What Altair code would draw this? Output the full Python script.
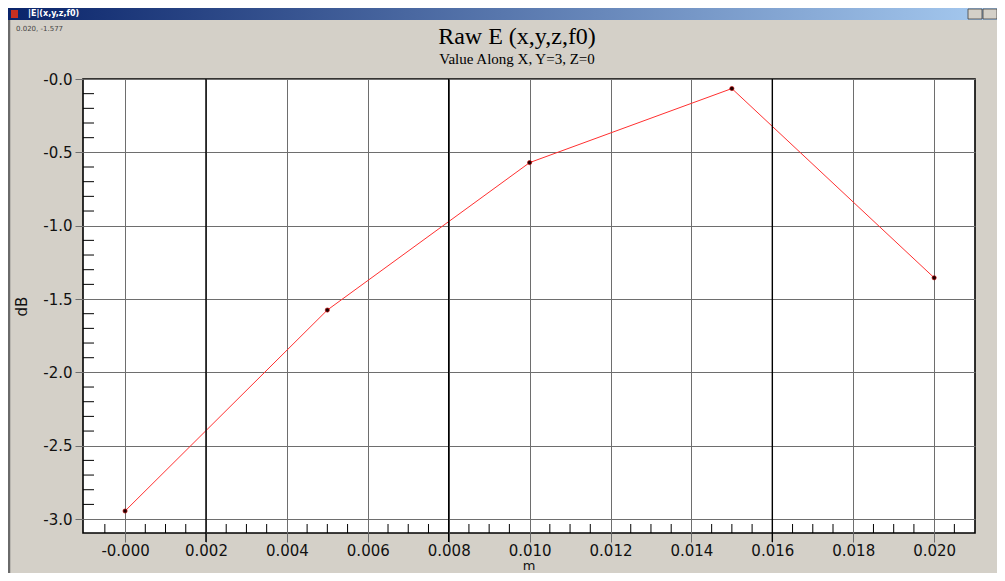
import altair as alt
import pandas as pd

# ---- data ----
x_m = [0.000, 0.005, 0.010, 0.015, 0.020]
y_db = [-2.945, -1.575, -0.570, -0.065, -1.355]

x_major = [0.000, 0.002, 0.004, 0.006, 0.008, 0.010, 0.012, 0.014, 0.016, 0.018, 0.020]
x_dark = [0.002, 0.008, 0.016]
x_minor = [-0.0005, 0.0005, 0.0010, 0.0015, 0.0025, 0.0030, 0.0035, 0.0045, 0.0050, 0.0055,
           0.0065, 0.0070, 0.0075, 0.0085, 0.0090, 0.0095, 0.0105, 0.0110, 0.0115,
           0.0125, 0.0130, 0.0135, 0.0145, 0.0150, 0.0155, 0.0165, 0.0170, 0.0175,
           0.0185, 0.0190, 0.0195, 0.0205]
y_major = [-3.0, -2.5, -2.0, -1.5, -1.0, -0.5, 0.0]
y_minor = [-2.9, -2.8, -2.7, -2.6, -2.4, -2.3, -2.2, -2.1, -1.9, -1.8, -1.7, -1.6,
           -1.4, -1.3, -1.2, -1.1, -0.9, -0.8, -0.7, -0.6, -0.4, -0.3, -0.2, -0.1]

title_text = "Raw E (x,y,z,f0)"
subtitle_text = "Value Along X, Y=3, Z=0"
window_text = "|E|(x,y,z,f0)"
status_text = "0.020, -1.577"

W, H = 892, 454
PAD_L, PAD_T, PAD_R, PAD_B = 75, 71, 22, 40
GRAY = "#D4D0C8"
GRID = "#6E6E6E"

df = pd.DataFrame({"m": x_m, "dB": y_db})
one = pd.DataFrame({"d": [0]})

xs = alt.Scale(domain=[-0.00104, 0.02101], nice=False, zero=False)
ys = alt.Scale(domain=[-3.095, 0.0], nice=False, zero=False)

x_axis = alt.Axis(
    values=x_major, grid=True, gridColor=GRID, gridWidth=1, gridOpacity=1,
    domain=False, ticks=True, tickSize=9, tickColor=GRID, tickWidth=1,
    labelFont="DejaVu Sans", labelFontSize=15, labelColor="#111", labelPadding=1,
    labelExpr="datum.value == 0 ? '-0.000' : format(datum.value, '.3f')",
    labelFlush=False, labelOverlap=False, title=None,
)
y_axis = alt.Axis(
    values=y_major, grid=True, gridColor=GRID, gridWidth=1, gridOpacity=1,
    domain=False, ticks=True, tickSize=8, tickColor=GRID, tickWidth=1,
    labelFont="DejaVu Sans", labelFontSize=15, labelColor="#111", labelPadding=3,
    labelExpr="datum.value == 0 ? '-0.0' : replace(format(datum.value, '.1f'), '\u2212', '-')",
    labelFlush=False, labelOverlap=False,
    title="dB", titleFont="DejaVu Sans", titleFontSize=15, titleFontWeight="normal",
    titleColor="#111", titleX=-62, titleY=227, titleAngle=270,
    titleAlign="center", titleBaseline="middle",
)

line = alt.Chart(df).mark_line(color="#FF3030", strokeWidth=1).encode(
    x=alt.X("m:Q", scale=xs, axis=x_axis),
    y=alt.Y("dB:Q", scale=ys, axis=y_axis),
)
points = alt.Chart(df).mark_point(filled=True, color="#200000", size=18, opacity=1,
                                  stroke="#C00000", strokeWidth=0.6).encode(
    x=alt.X("m:Q", scale=xs), y=alt.Y("dB:Q", scale=ys)
)

dark_grid = alt.Chart(pd.DataFrame({"m": x_dark})).mark_rule(
    color="#000", strokeWidth=1.4).encode(
    x=alt.X("m:Q", scale=xs), y=alt.value(0), y2=alt.value(H + 9))

xminor = alt.Chart(pd.DataFrame({"m": x_minor})).mark_rule(
    color="#000", strokeWidth=1).encode(
    x=alt.X("m:Q", scale=xs), y=alt.value(H), y2=alt.value(H - 9))

yminor = alt.Chart(pd.DataFrame({"dB": y_minor})).mark_rule(
    color="#000", strokeWidth=1).encode(
    y=alt.Y("dB:Q", scale=ys), x=alt.value(0), x2=alt.value(11))

# ---- titles as text marks ----
title_mark = alt.Chart(one).mark_text(
    text=title_text, font="Liberation Serif", fontSize=24, color="#000",
    align="center", baseline="alphabetic").encode(
    x=alt.value(434), y=alt.value(-35))
subtitle_mark = alt.Chart(one).mark_text(
    text=subtitle_text, font="Liberation Serif", fontSize=15, color="#000",
    align="center", baseline="alphabetic").encode(
    x=alt.value(434), y=alt.value(-15))
xtitle_mark = alt.Chart(one).mark_text(
    text="m", font="DejaVu Sans", fontSize=13, color="#111",
    align="center", baseline="bottom").encode(
    x=alt.value(446), y=alt.value(H + PAD_B))

# ---- window chrome ----
grad = alt.Gradient(
    gradient="linear",
    stops=[alt.GradientStop(color="#0A246A", offset=0),
           alt.GradientStop(color="#A6CAF0", offset=1)],
    x1=0, x2=1, y1=0, y2=0,
)
titlebar = alt.Chart(one).mark_rect(fill=grad).encode(
    x=alt.value(-PAD_L), x2=alt.value(W + PAD_R), y=alt.value(-PAD_T), y2=alt.value(-PAD_T + 12))
titlebar_text = alt.Chart(one).mark_text(
    text=window_text, color="white", font="DejaVu Sans", fontSize=8, fontWeight="bold",
    align="left", baseline="middle").encode(
    x=alt.value(-PAD_L + 20), y=alt.value(-PAD_T + 6))
icon = alt.Chart(one).mark_rect(color="#C83020").encode(
    x=alt.value(-PAD_L + 3), x2=alt.value(-PAD_L + 10), y=alt.value(-PAD_T + 2), y2=alt.value(-PAD_T + 10))
btn1 = alt.Chart(one).mark_rect(color=GRAY, stroke="#404040", strokeWidth=0.8).encode(
    x=alt.value(960 - PAD_L), x2=alt.value(974 - PAD_L), y=alt.value(-PAD_T + 1), y2=alt.value(-PAD_T + 11))
btn2 = alt.Chart(one).mark_rect(color=GRAY, stroke="#404040", strokeWidth=0.8).encode(
    x=alt.value(975 - PAD_L), x2=alt.value(989 - PAD_L), y=alt.value(-PAD_T + 1), y2=alt.value(-PAD_T + 11))
status = alt.Chart(one).mark_text(
    text=status_text, color="#444", font="DejaVu Sans", fontSize=7,
    align="left", baseline="middle").encode(
    x=alt.value(-PAD_L + 8), y=alt.value(-PAD_T + 21))
win_border = alt.Chart(one).mark_rule(color="#6A6A6A", strokeWidth=2.5).encode(
    x=alt.value(-PAD_L + 1), y=alt.value(-PAD_T + 12), y2=alt.value(H + PAD_B))

chart = alt.layer(
    line, dark_grid, xminor, yminor, points,
    title_mark, subtitle_mark, xtitle_mark,
    titlebar, titlebar_text, icon, btn1, btn2, status, win_border,
).properties(
    width=W, height=H,
    padding={"left": PAD_L, "top": PAD_T, "right": PAD_R, "bottom": PAD_B},
    autosize=alt.AutoSizeParams(type="none"),
    background=GRAY,
).configure_view(
    fill="white", stroke="#000", strokeWidth=1.6,
)

chart.save("out.html", embed_options={"renderer": "svg", "actions": False})
